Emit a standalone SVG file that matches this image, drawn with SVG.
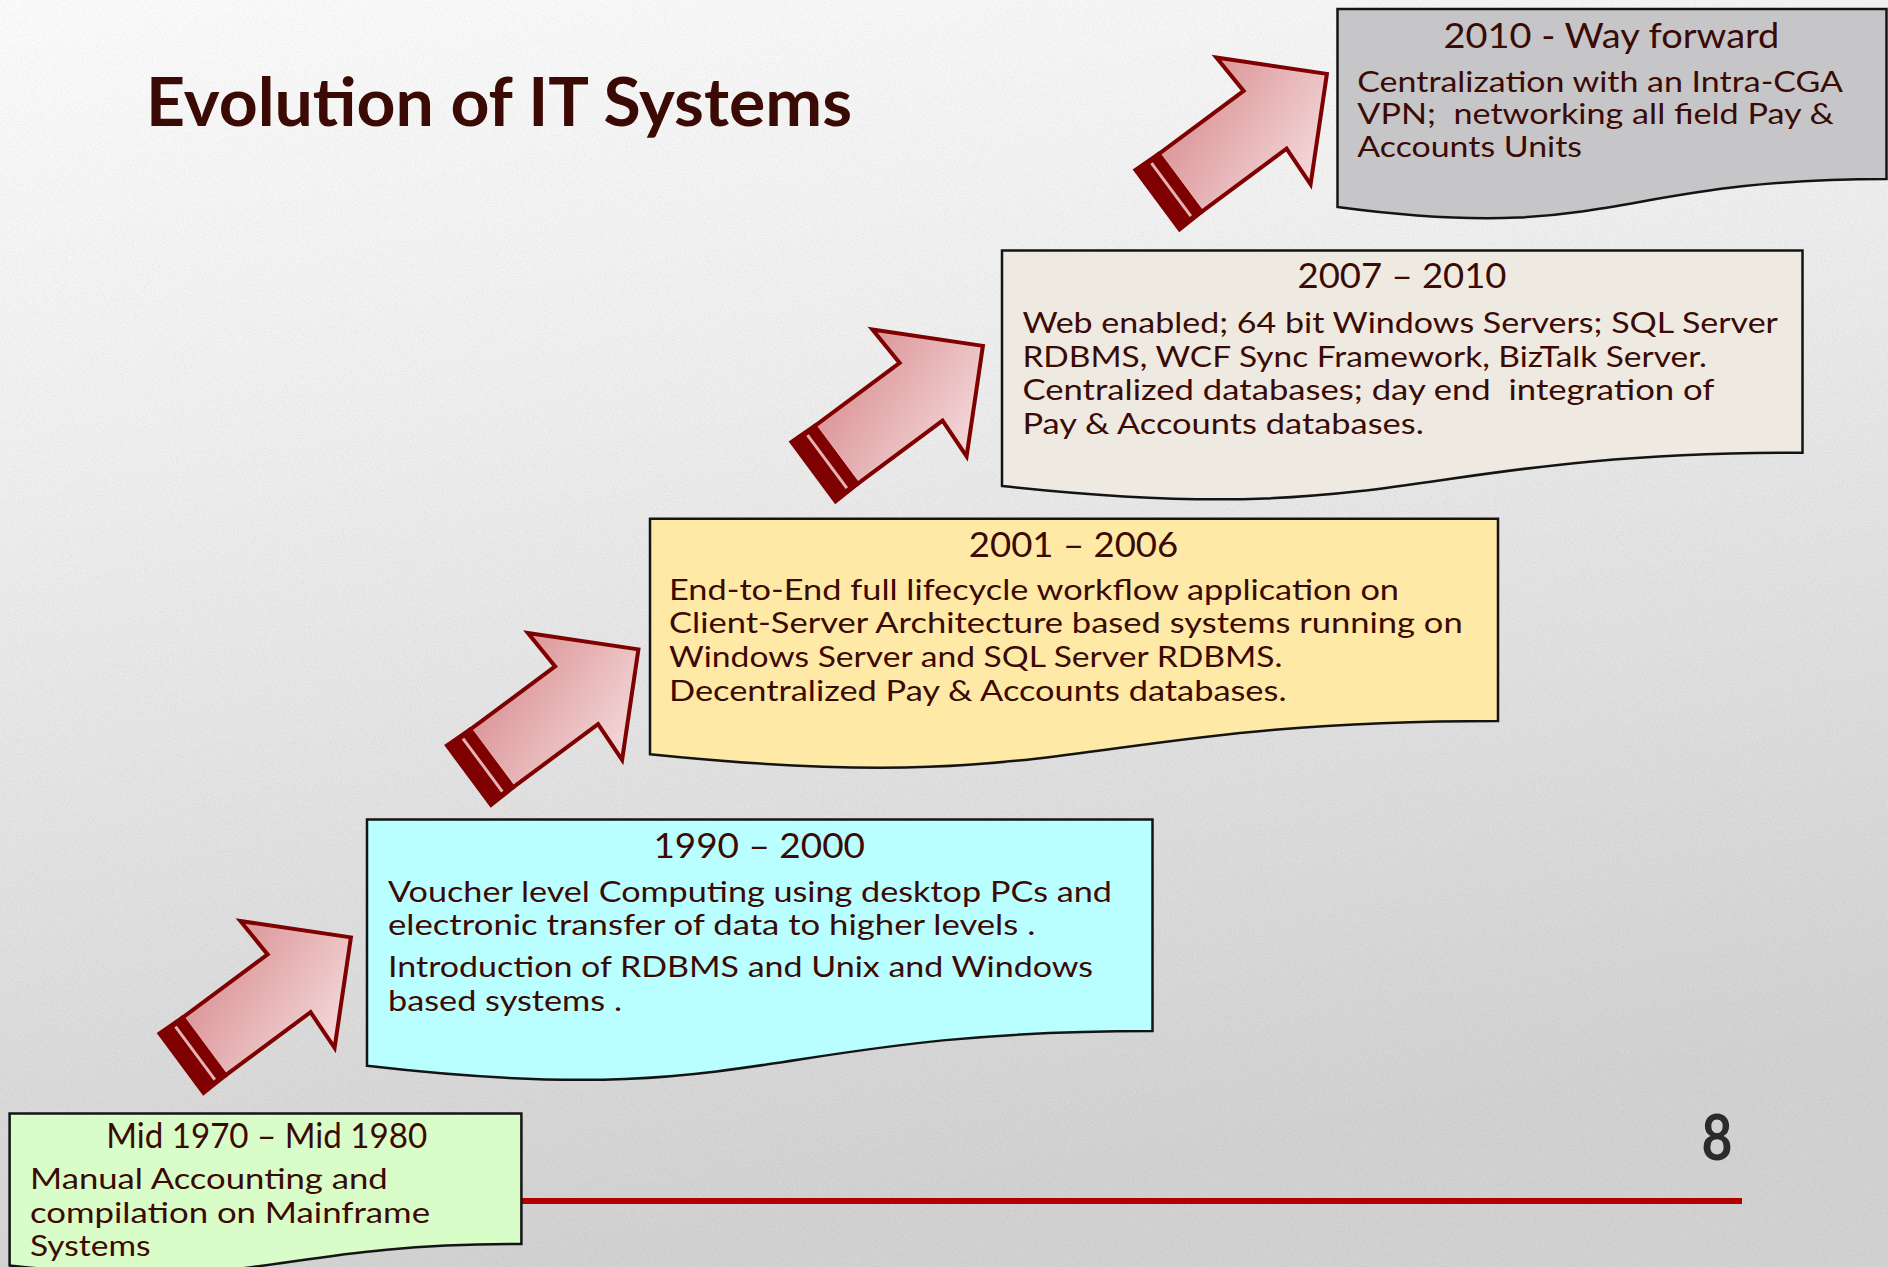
<svg xmlns="http://www.w3.org/2000/svg" xmlns:xlink="http://www.w3.org/1999/xlink" width="1888" height="1267" viewBox="0 0 1888 1267">
  <defs>
    <style>
      .txt { font-family: Lato, "Liberation Sans", sans-serif; fill: #3b0a04; }
      .head { font-size: 35px; text-anchor: middle; }
      .body { font-size: 28px; white-space: pre; }
      .doc { stroke: #141414; stroke-width: 2.5; stroke-linejoin: miter; }
      .arrow-body { fill: url(#arrowFill); stroke: #7f0000; stroke-width: 4; stroke-linejoin: miter; }
    </style>
    <linearGradient id="bg" x1="0" y1="0" x2="0.25" y2="1">
      <stop offset="0" stop-color="#fcfcfc"/>
      <stop offset="0.35" stop-color="#f0f0f0"/>
      <stop offset="1" stop-color="#d3d3d3"/>
    </linearGradient>
    <linearGradient id="arrowFill" gradientUnits="userSpaceOnUse" x1="60" y1="-80" x2="120" y2="80">
      <stop offset="0" stop-color="#d98e91"/>
      <stop offset="1" stop-color="#f5dcdd"/>
    </linearGradient>
    <filter id="grain" x="0" y="0" width="100%" height="100%">
      <feTurbulence type="fractalNoise" baseFrequency="0.9" numOctaves="2" seed="4"/>
      <feColorMatrix type="matrix" values="0 0 0 0 0  0 0 0 0 0  0 0 0 0 0  0 0 0 -0.9 0.55"/>
    </filter>
    <!-- striped block arrow, drawn pointing along +x with the shaft tail at the origin -->
    <g id="stripedArrow">
      <path class="arrow-body" d="M183,0 L104,-79 L106,-36 L0,-36 L0,36 L106,36 L104,79 Z"/>
      <path d="M-30,-39 L2,-38 L2,38 L-30,39 Z" fill="#7f0000"/>
      <rect x="-12.5" y="-33" width="3" height="66" fill="#e6b3b4"/>
    </g>
  </defs>

  <!-- paper background -->
  <rect width="1888" height="1267" fill="url(#bg)"/>
  <rect width="1888" height="1267" filter="url(#grain)" opacity="0.12"/>

  <!-- slide title -->
  <text id="title" class="txt" x="146" y="126" font-size="66" font-weight="700" textLength="706" lengthAdjust="spacingAndGlyphs">Evolution of IT Systems</text>

  <!-- footer rule and page number -->
  <line x1="400" y1="1201" x2="1742" y2="1201" stroke="#b00000" stroke-width="6"/>
  <text id="page-number" x="1717" y="1160" font-family="Lato, 'Liberation Sans', sans-serif" font-weight="700" font-size="64" fill="#2b2b2b" text-anchor="middle" textLength="31" lengthAdjust="spacingAndGlyphs">8</text>

  <!-- arrows between stages -->
  <g id="connectors">
    <use xlink:href="#stripedArrow" transform="translate(204,1046.5) rotate(-36.6)"/>
    <use xlink:href="#stripedArrow" transform="translate(491.5,758.5) rotate(-36.6)"/>
    <use xlink:href="#stripedArrow" transform="translate(836,455) rotate(-36.6)"/>
    <use xlink:href="#stripedArrow" transform="translate(1180,183) rotate(-36.6)"/>
  </g>

  <!-- stage 1 -->
  <g id="stage-1970">
    <path class="doc" fill="#d9fdc8" d="M9.6,1113.5 H521.4 V1244 C265.5,1244 265.5,1293.7 9.6,1265.5 Z"/>
    <text class="txt head" x="266.7" y="1148" textLength="321" lengthAdjust="spacingAndGlyphs">Mid 1970 – Mid 1980</text>
    <text class="txt body" x="30" y="1189" textLength="357.7" lengthAdjust="spacingAndGlyphs">Manual Accounting and</text>
    <text class="txt body" x="30" y="1223" textLength="400" lengthAdjust="spacingAndGlyphs">compilation on Mainframe</text>
    <text class="txt body" x="30" y="1256" textLength="120.5" lengthAdjust="spacingAndGlyphs">Systems</text>
  </g>

  <!-- stage 2 -->
  <g id="stage-1990">
    <path class="doc" fill="#b9ffff" d="M367,819.5 H1152.5 V1031 C759.8,1031 759.8,1111.5 367,1065.8 Z"/>
    <text class="txt head" x="759.2" y="858.3" textLength="211.6" lengthAdjust="spacingAndGlyphs">1990 – 2000</text>
    <text class="txt body" x="388" y="901.5" textLength="724" lengthAdjust="spacingAndGlyphs">Voucher level Computing using desktop PCs and</text>
    <text class="txt body" x="388" y="935" textLength="647.4" lengthAdjust="spacingAndGlyphs">electronic transfer of data to higher levels .</text>
    <text class="txt body" x="388" y="976.5" textLength="705" lengthAdjust="spacingAndGlyphs">Introduction of RDBMS and Unix and Windows</text>
    <text class="txt body" x="388" y="1010.5" textLength="234" lengthAdjust="spacingAndGlyphs">based systems .</text>
  </g>

  <!-- stage 3 -->
  <g id="stage-2001">
    <path class="doc" fill="#ffe9a6" d="M650,518.7 H1498 V721 C1074,721 1074,798 650,754.3 Z"/>
    <text class="txt head" x="1073.5" y="556.7" textLength="209.5" lengthAdjust="spacingAndGlyphs">2001 – 2006</text>
    <text class="txt body" x="669" y="600" textLength="730" lengthAdjust="spacingAndGlyphs">End-to-End full lifecycle workflow application on</text>
    <text class="txt body" x="669" y="633.3" textLength="793.7" lengthAdjust="spacingAndGlyphs">Client-Server Architecture based systems running on</text>
    <text class="txt body" x="669" y="666.7" textLength="613.5" lengthAdjust="spacingAndGlyphs">Windows Server and SQL Server RDBMS.</text>
    <text class="txt body" x="669" y="700.5" textLength="617.5" lengthAdjust="spacingAndGlyphs">Decentralized Pay &amp; Accounts databases.</text>
  </g>

  <!-- stage 4 -->
  <g id="stage-2007">
    <path class="doc" fill="#eeeae2" d="M1002,250.6 H1802.5 V452.7 C1402.3,452.7 1402.3,529.7 1002,486 Z"/>
    <text class="txt head" x="1402" y="288.3" textLength="209" lengthAdjust="spacingAndGlyphs">2007 – 2010</text>
    <text class="txt body" x="1022.4" y="333.3" textLength="755.6" lengthAdjust="spacingAndGlyphs">Web enabled; 64 bit Windows Servers; SQL Server</text>
    <text class="txt body" x="1022.4" y="366.7" textLength="684.6" lengthAdjust="spacingAndGlyphs">RDBMS, WCF Sync Framework, BizTalk Server.</text>
    <text class="txt body" x="1022.4" y="400" textLength="692" lengthAdjust="spacingAndGlyphs">Centralized databases; day end  integration of</text>
    <text class="txt body" x="1022.4" y="434" textLength="401.4" lengthAdjust="spacingAndGlyphs">Pay &amp; Accounts databases.</text>
  </g>

  <!-- stage 5 -->
  <g id="stage-2010">
    <path class="doc" fill="#c6c6c8" d="M1337.5,9 H1886.5 V179 C1612,179 1612,243.8 1337.5,207 Z"/>
    <text class="txt head" x="1611.4" y="48.3" textLength="336" lengthAdjust="spacingAndGlyphs">2010 - Way forward</text>
    <text class="txt body" x="1357.3" y="91.5" textLength="485.7" lengthAdjust="spacingAndGlyphs">Centralization with an Intra-CGA</text>
    <text class="txt body" x="1357.3" y="124" textLength="476.5" lengthAdjust="spacingAndGlyphs">VPN;  networking all field Pay &amp;</text>
    <text class="txt body" x="1357.3" y="157" textLength="224.7" lengthAdjust="spacingAndGlyphs">Accounts Units</text>
  </g>
</svg>
